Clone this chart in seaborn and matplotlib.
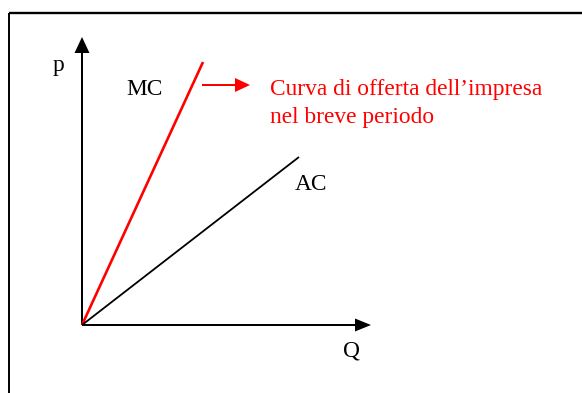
import matplotlib
matplotlib.use("Agg")
import matplotlib.pyplot as plt
import seaborn as sns
import pandas as pd

# Cost curves (quantity Q, price p), both starting at the origin
mc_q = [0, 121]
mc_p = [0, 263]
ac_q = [0, 217]
ac_p = [0, 168]

# Axis extents and labels
q_axis_end = 289
p_axis_end = 288
axis_labels = {"p": "p", "Q": "Q"}
curve_names = ["MC", "AC"]
note_lines = ["Curva di offerta dell\u2019impresa", "nel breve periodo"]

df = pd.DataFrame({
    "Q": mc_q + ac_q,
    "p": mc_p + ac_p,
    "curva": [curve_names[0]] * len(mc_q) + [curve_names[1]] * len(ac_q),
})

sns.set_theme(style="white")
plt.rcParams["font.family"] = ["Liberation Serif", "DejaVu Serif"]
plt.rcParams["text.color"] = "black"

fig = plt.figure(figsize=(5.82, 3.93), dpi=100)
ax = fig.add_axes([0, 0, 1, 1])
ax.set_xlim(-82, 500)
ax.set_ylim(-68, 325)
ax.set_axis_off()

# Frame (top and left edges)
ax.plot([-73, 500], [312.5, 312.5], color="black", lw=1.7, solid_capstyle="butt")
ax.plot([-73, -73], [312.5, -68], color="black", lw=1.4, solid_capstyle="butt")

# Axes with arrowheads
ax.arrow(0, 0, 0, p_axis_end, width=2.0, head_width=15, head_length=16,
         length_includes_head=True, color="black", lw=0)
ax.arrow(0, 0, q_axis_end, 0, width=2.0, head_width=13, head_length=16,
         length_includes_head=True, color="black", lw=0)

sns.lineplot(data=df, x="Q", y="p", hue="curva", palette={"MC": "#ff0000", "AC": "black"},
             estimator=None, sort=False, legend=False, ax=ax)
for ln in ax.get_lines()[-2:]:
    xd = list(ln.get_xdata())
    ln.set_linewidth(1.9 if max(xd) == max(mc_q) else 1.3)
    ln.set_solid_capstyle("butt")

# Red pointer to the note
ax.arrow(120, 240, 48, 0, width=2.0, head_width=14, head_length=15,
         length_includes_head=True, color="#ff0000", lw=0)

fs = 16.8
ax.text(-29, 254, axis_labels["p"], fontsize=fs, color="black", ha="left", va="baseline")
ax.text(261, -32, axis_labels["Q"], fontsize=fs, color="black", ha="left", va="baseline")
ax.text(44, 230, curve_names[0], fontsize=fs, color="black", ha="left", va="baseline")
ax.text(213, 135, curve_names[1], fontsize=fs, color="black", ha="left", va="baseline")
ax.text(188, 230.5, note_lines[0], fontsize=fs, color="#ff0000", ha="left", va="baseline")
ax.text(188, 202.5, note_lines[1], fontsize=fs, color="#ff0000", ha="left", va="baseline")

fig.savefig("out.png", dpi=100)
